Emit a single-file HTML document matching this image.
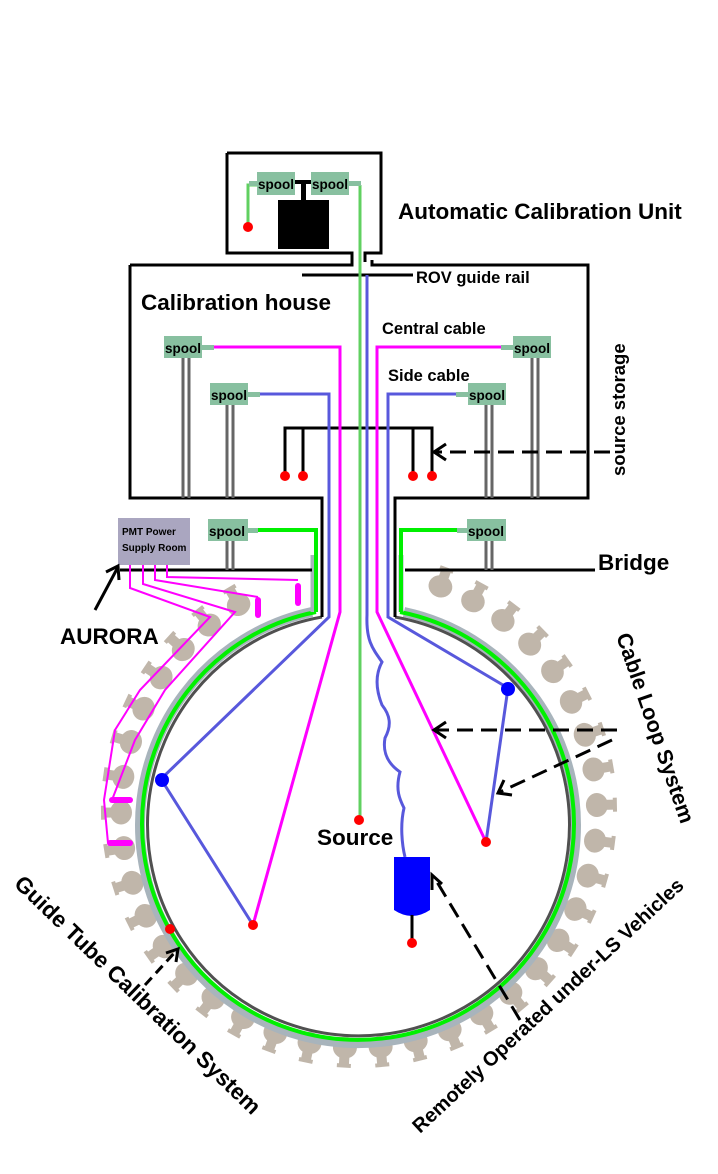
<!DOCTYPE html>
<html><head><meta charset="utf-8"><style>
html,body{margin:0;padding:0;background:#fff;}
svg{display:block;}
text{font-family:"Liberation Sans",sans-serif;font-weight:bold;fill:#000;}
</style></head><body>
<svg width="718" height="1174" viewBox="0 0 718 1174" xmlns="http://www.w3.org/2000/svg">
<g id="pmts" fill="#c0b6aa"></g>

<g fill="none">
<path d="M312,612 A218,218 0 1 0 404,612" stroke="#a8b4bc" stroke-width="10"/>
<path d="M316,612 A216,216 0 1 0 400,612" stroke="#00f000" stroke-width="4"/>
<path d="M322,617 A211,211 0 1 0 395,617" stroke="#505050" stroke-width="3"/>
</g>
<g stroke="#a8b4bc" stroke-width="5"><line x1="313" y1="555" x2="313" y2="612"/><line x1="401" y1="555" x2="401" y2="612"/></g>
<g stroke="#000" stroke-width="3" fill="none">
<polyline points="130,265 130,498 322,498 322,617"/>
<polyline points="395,617 395,498 588,498 588,265 372,265 372,260"/>
<polyline points="130,265 352,265 352,260"/>
<polyline points="227,153 381,153 381,253 365,253 365,262"/>
<polyline points="227,153 227,253 352,253 352,262"/>
<line x1="302" y1="275" x2="413" y2="275"/>
<line x1="120" y1="570" x2="312" y2="570"/>
<line x1="405" y1="570" x2="595" y2="570"/>
<polyline points="285,474 285,428 432,428 432,474"/>
<line x1="303" y1="428" x2="303" y2="474"/>
<line x1="413" y1="428" x2="413" y2="474"/>
</g>
<g stroke="#00f000" stroke-width="4" fill="none">
<polyline points="248,530 316,530 316,612"/>
<polyline points="467,530 401,530 401,612"/>
</g>
<g stroke="#666" stroke-width="3">
<line x1="183" y1="358" x2="183" y2="498"/><line x1="189" y1="358" x2="189" y2="498"/>
<line x1="227" y1="405" x2="227" y2="498"/><line x1="233" y1="405" x2="233" y2="498"/>
<line x1="532" y1="358" x2="532" y2="498"/><line x1="538" y1="358" x2="538" y2="498"/>
<line x1="486" y1="405" x2="486" y2="498"/><line x1="492" y1="405" x2="492" y2="498"/>
<line x1="227" y1="541" x2="227" y2="570"/><line x1="233" y1="541" x2="233" y2="570"/>
<line x1="486" y1="541" x2="486" y2="570"/><line x1="492" y1="541" x2="492" y2="570"/>
</g>
<g fill="none" stroke-width="3">
<polyline stroke="#f0f" points="202,347 340,347 340,612 253,925"/>
<polyline stroke="#f0f" points="513,347 377,347 377,612 486,842"/>
<polyline stroke="#5858dc" points="248,394 329,394 329,617 161,779 253,925"/>
<polyline stroke="#5858dc" points="468,394 388,394 388,617 508,688 486,842"/>
<path stroke="#5858dc" d="M367,275 L367,615 C366,640 372,648 382,662 C375,675 376,690 382,705 C390,715 392,725 385,738 C382,755 390,765 400,772 C395,790 400,800 404,808 C400,825 402,845 405,857"/>
<polyline stroke="#60d060" points="360,185 360,820"/>
<polyline stroke="#60d060" points="257,185 248,185 248,227"/>
</g>
<g fill="none" stroke="#f0f" stroke-width="2">
<polyline points="130,540 130,588 210,617 140,690 115,730 104,800 108,843"/>
<polyline points="143,540 143,584 235,612 165,690 135,740 112,800"/>
<polyline points="155,540 155,580 258,597"/>
<polyline points="167,540 167,577 298,580"/>
</g>
<g stroke="#f0f" stroke-width="6" stroke-linecap="round">
<line x1="258" y1="600" x2="258" y2="615"/><line x1="298" y1="586" x2="298" y2="603"/>
<line x1="112" y1="800" x2="130" y2="800"/><line x1="110" y1="843" x2="130" y2="843"/>
</g>
<rect x="278" y="200" width="51" height="49" fill="#000"/>
<rect x="295" y="180" width="16" height="4" fill="#000"/><rect x="301" y="180" width="5" height="22" fill="#000"/>
<g fill="#88c0a0">
<rect x="257" y="172" width="38" height="23"/><rect x="311" y="172" width="38" height="23"/>
<rect x="349" y="181" width="12" height="5"/><rect x="249" y="181" width="10" height="5"/>
<rect x="164" y="336" width="38" height="22"/><rect x="202" y="345" width="12" height="5"/>
<rect x="210" y="383" width="38" height="22"/><rect x="248" y="392" width="12" height="5"/>
<rect x="513" y="336" width="38" height="22"/><rect x="501" y="345" width="12" height="5"/>
<rect x="468" y="383" width="38" height="22"/><rect x="456" y="392" width="12" height="5"/>
<rect x="208" y="519" width="40" height="22"/><rect x="248" y="528" width="10" height="5"/>
<rect x="467" y="519" width="39" height="22"/><rect x="457" y="528" width="10" height="5"/>
</g>
<g font-size="13.5"><text x="258" y="189">spool</text><text x="312" y="189">spool</text>
<text x="165" y="353">spool</text><text x="211" y="400">spool</text>
<text x="514" y="353">spool</text><text x="469" y="400">spool</text>
<text x="209" y="536">spool</text><text x="468" y="536">spool</text></g>
<rect x="118" y="518" width="72" height="47" fill="#aaa6c0"/>
<text x="122" y="535" font-size="10">PMT Power</text><text x="122" y="551" font-size="10">Supply Room</text>
<g fill="#00f"><circle cx="162" cy="780" r="7"/><circle cx="508" cy="689" r="7"/></g>
<path d="M394,857 H430 V910 Q412,922 394,910 Z" fill="#00f"/>
<line x1="412" y1="915" x2="412" y2="943" stroke="#000" stroke-width="3"/>
<g fill="#f00">
<circle cx="248" cy="227" r="5"/><circle cx="359" cy="820" r="5"/><circle cx="253" cy="925" r="5"/><circle cx="486" cy="842" r="5"/>
<circle cx="412" cy="943" r="5"/><circle cx="170" cy="929" r="5"/>
<circle cx="285" cy="476" r="5"/><circle cx="303" cy="476" r="5"/><circle cx="413" cy="476" r="5"/><circle cx="432" cy="476" r="5"/>
</g>
<g stroke="#000" stroke-width="3" fill="none">
<line x1="95" y1="610" x2="118" y2="567"/><polyline points="106,572 118,566 119,580"/>
<line x1="610" y1="452" x2="436" y2="452" stroke-dasharray="16,8"/><polyline points="446,444 434,452 446,460"/>
<line x1="617" y1="730" x2="435" y2="730" stroke-dasharray="16,8"/><polyline points="446,722 434,730 446,738"/>
<line x1="612" y1="740" x2="500" y2="792" stroke-dasharray="16,8"/><polyline points="504,780 498,793 512,795"/>
<line x1="520" y1="1020" x2="434" y2="877" stroke-dasharray="16,8"/><polyline points="432,890 432,875 442,884"/>
<line x1="145" y1="985" x2="177" y2="950" stroke-dasharray="10,6"/><polyline points="166,953 178,949 176,962"/>
</g>
<text x="398" y="219" font-size="22.5">Automatic Calibration Unit</text>
<text x="141" y="310" font-size="22.5">Calibration house</text>
<text x="416" y="283" font-size="16.5">ROV guide rail</text>
<text x="382" y="334" font-size="16.5">Central cable</text>
<text x="388" y="381" font-size="16.5">Side cable</text>
<text x="598" y="570" font-size="22.5">Bridge</text>
<text x="60" y="644" font-size="22.5">AURORA</text>
<text x="317" y="845" font-size="22.5">Source</text>
<text font-size="18.5" transform="translate(625,476) rotate(-90)">source storage</text>
<text font-size="21.5" transform="translate(616,636) rotate(71)">Cable Loop System</text>
<text font-size="22.5" transform="translate(13,885) rotate(44)">Guide Tube Calibration System</text>
<text font-size="20" transform="translate(420,1134) rotate(-43)">Remotely Operated under-LS Vehicles</text>
</svg>
<script>
(function(){
var g=document.getElementById('pmts');var ns='http://www.w3.org/2000/svg';
var cx=359,cy=810,R=240;
for(var a=-70;a<=240.5;a+=8.6){
 var r=a*Math.PI/180;var x=cx+R*Math.cos(r),y=cy+R*Math.sin(r);
 var t=document.createElementNS(ns,'g');
 t.setAttribute('transform','translate('+x.toFixed(1)+','+y.toFixed(1)+') rotate('+a+')');
 t.innerHTML='<ellipse cx="-2" cy="0" rx="11" ry="12"/><rect x="4" y="-5" width="12" height="10"/><rect x="14" y="-7" width="4" height="14"/>';
 g.appendChild(t);
}
})();
</script>
</body></html>
